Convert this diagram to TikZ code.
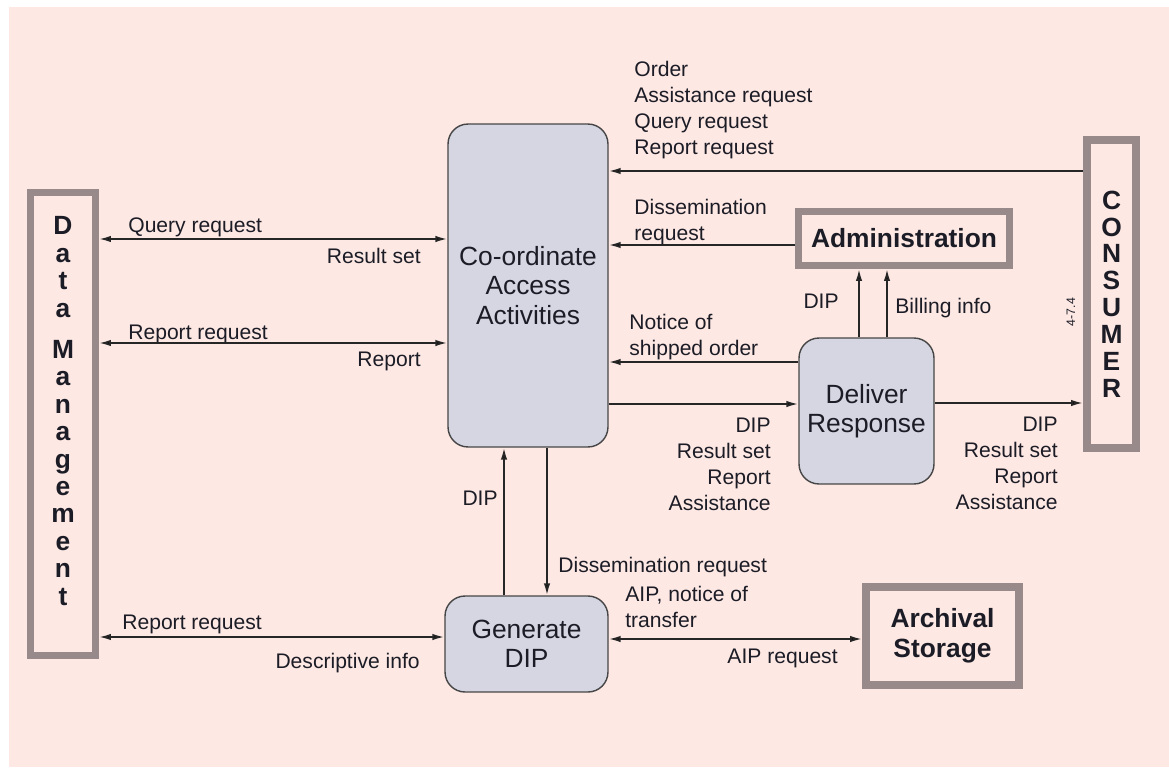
\documentclass[tikz,border=0pt]{standalone}
\usepackage{fontspec}
\setmainfont{Liberation Sans}
\usepackage{tikz}
\usetikzlibrary{%
  arrows.meta%
}
\definecolor{bgpink}{RGB}{253,232,228}
\definecolor{boxgray}{RGB}{152,138,138}
\definecolor{procfill}{RGB}{213,214,226}
\definecolor{procedge}{RGB}{70,70,70}
\definecolor{txt}{RGB}{28,28,38}

\begin{document}
\begin{tikzpicture}[x=0.02cm,y=-0.02cm,
	>={Latex[length=0.24cm,width=0.13cm]},
	every node/.style={text=txt},
	ext/.style={draw=boxgray,line width=0.14cm,inner sep=0},
	proc/.style={draw=procedge,fill=procfill,line width=0.8pt,rounded corners=0.4cm,inner sep=0,align=center,font=\fontsize{15}{16.8}\selectfont},
	lbl/.style={inner sep=0,font=\fontsize{12}{14.7}\selectfont},
	flow/.style={line width=1pt,draw=black!85}
]
	%Background
	\useasboundingbox (0,0) rectangle (1169,767);
	\fill[white] (0,0) rectangle (1169,767);
	\fill[bgpink] (9,7) rectangle (1169,767);
	%Nodes
	\node[ext,minimum width=1.3cm,minimum height=9.26cm] (DM) at (63,424) {};
	\node[font=\fontsize{15}{15.6}\selectfont\bfseries,align=center] (DMtxt) at (63,411) {D\\a\\t\\a\\[8pt]M\\a\\n\\a\\g\\e\\m\\e\\n\\t};
	\node[ext,line width=0.16cm,minimum width=0.98cm,minimum height=6.16cm,font=\fontsize{15}{15.3}\selectfont\bfseries,align=center] (CON) at (1111.5,294) {C\\O\\N\\S\\U\\M\\E\\R};
	\node[font=\fontsize{7}{8}\selectfont,rotate=90,inner sep=0] (ref) at (1071,312) {4-7.4};
	\node[proc,minimum width=3.2cm,minimum height=6.46cm] (CAA) at (528,285.5) {Co-ordinate\\Access\\Activities};
	\node[ext,minimum width=4.22cm,minimum height=1.08cm,font=\fontsize{15}{16}\selectfont\bfseries] (ADM) at (904,238.5) {Administration};
	\node[proc,minimum width=2.7cm,minimum height=2.92cm] (DR) at (866.5,411) {Deliver\\Response};
	\node[proc,minimum width=3.26cm,minimum height=1.92cm] (GD) at (526.5,644) {Generate\\DIP};
	\node[ext,line width=0.16cm,minimum width=3.06cm,minimum height=1.96cm,align=center,font=\fontsize{15}{17}\selectfont\bfseries] (AS) at (942.5,636) {Archival\\Storage};
	%Labels
	\node[lbl,anchor=base west] (qr) at (128,232) {Query request};
	\node[lbl,anchor=base east] (rs) at (421,263) {Result set};
	\node[lbl,anchor=base west] (rr) at (128,339) {Report request};
	\node[lbl,anchor=base east] (rp) at (421,366) {Report};
	\node[lbl,anchor=north west,align=left] (orders) at (634,61) {Order\\Assistance request\\Query request\\Report request};
	\node[lbl,anchor=north west,align=left] (dreq) at (634,199) {Dissemination\\request};
	\node[lbl,anchor=north west,align=left] (notice) at (629,314) {Notice of\\shipped order};
	\node[lbl,anchor=north east,align=right] (outl) at (771,418) {DIP\\Result set\\Report\\Assistance};
	\node[lbl,anchor=north east,align=right] (outr) at (1058,417) {DIP\\Result set\\Report\\Assistance};
	\node[lbl,anchor=base east] (dipa) at (839,308) {DIP};
	\node[lbl,anchor=base west] (bill) at (895,313) {Billing info};
	\node[lbl,anchor=base east] (dipg) at (498,505) {DIP};
	\node[lbl,anchor=base west] (dreq2) at (558,572) {Dissemination request};
	\node[lbl,anchor=north west,align=left] (aip) at (625,586) {AIP, notice of\\transfer};
	\node[lbl,anchor=base east] (aipr) at (838,663) {AIP request};
	\node[lbl,anchor=base west] (rr2) at (122,629) {Report request};
	\node[lbl,anchor=base east] (desc) at (420,668) {Descriptive info};
	%Two-way arrows
	\draw[flow]
		(DM.east |- 0,239) edge[<->] (CAA.west |- 0,239)
		(DM.east |- 0,343) edge[<->] (CAA.west |- 0,343)
		(DM.east |- 0,637) edge[<->] (GD.west |- 0,637)
		(GD.east |- 0,639) edge[<->] (AS.west |- 0,639)
	;
	%One-way arrows
	\draw[flow]
		(CON.west |- 0,171) edge[->] (CAA.east |- 0,171)
		(ADM.west |- 0,245) edge[->] (CAA.east |- 0,245)
		(DR.west |- 0,362) edge[->] (CAA.east |- 0,362)
		(CAA.east |- 0,404) edge[->] (DR.west |- 0,404)
		(DR.east |- 0,403) edge[->] (CON.west |- 0,403)
		(DR.north -| 859,0) edge[->] (ADM.south -| 859,0)
		(DR.north -| 887,0) edge[->] (ADM.south -| 887,0)
		(GD.north -| 504,0) edge[->] (CAA.south -| 504,0)
		(CAA.south -| 547,0) edge[->] (GD.north -| 547,0)
	;
\end{tikzpicture}
\end{document}
